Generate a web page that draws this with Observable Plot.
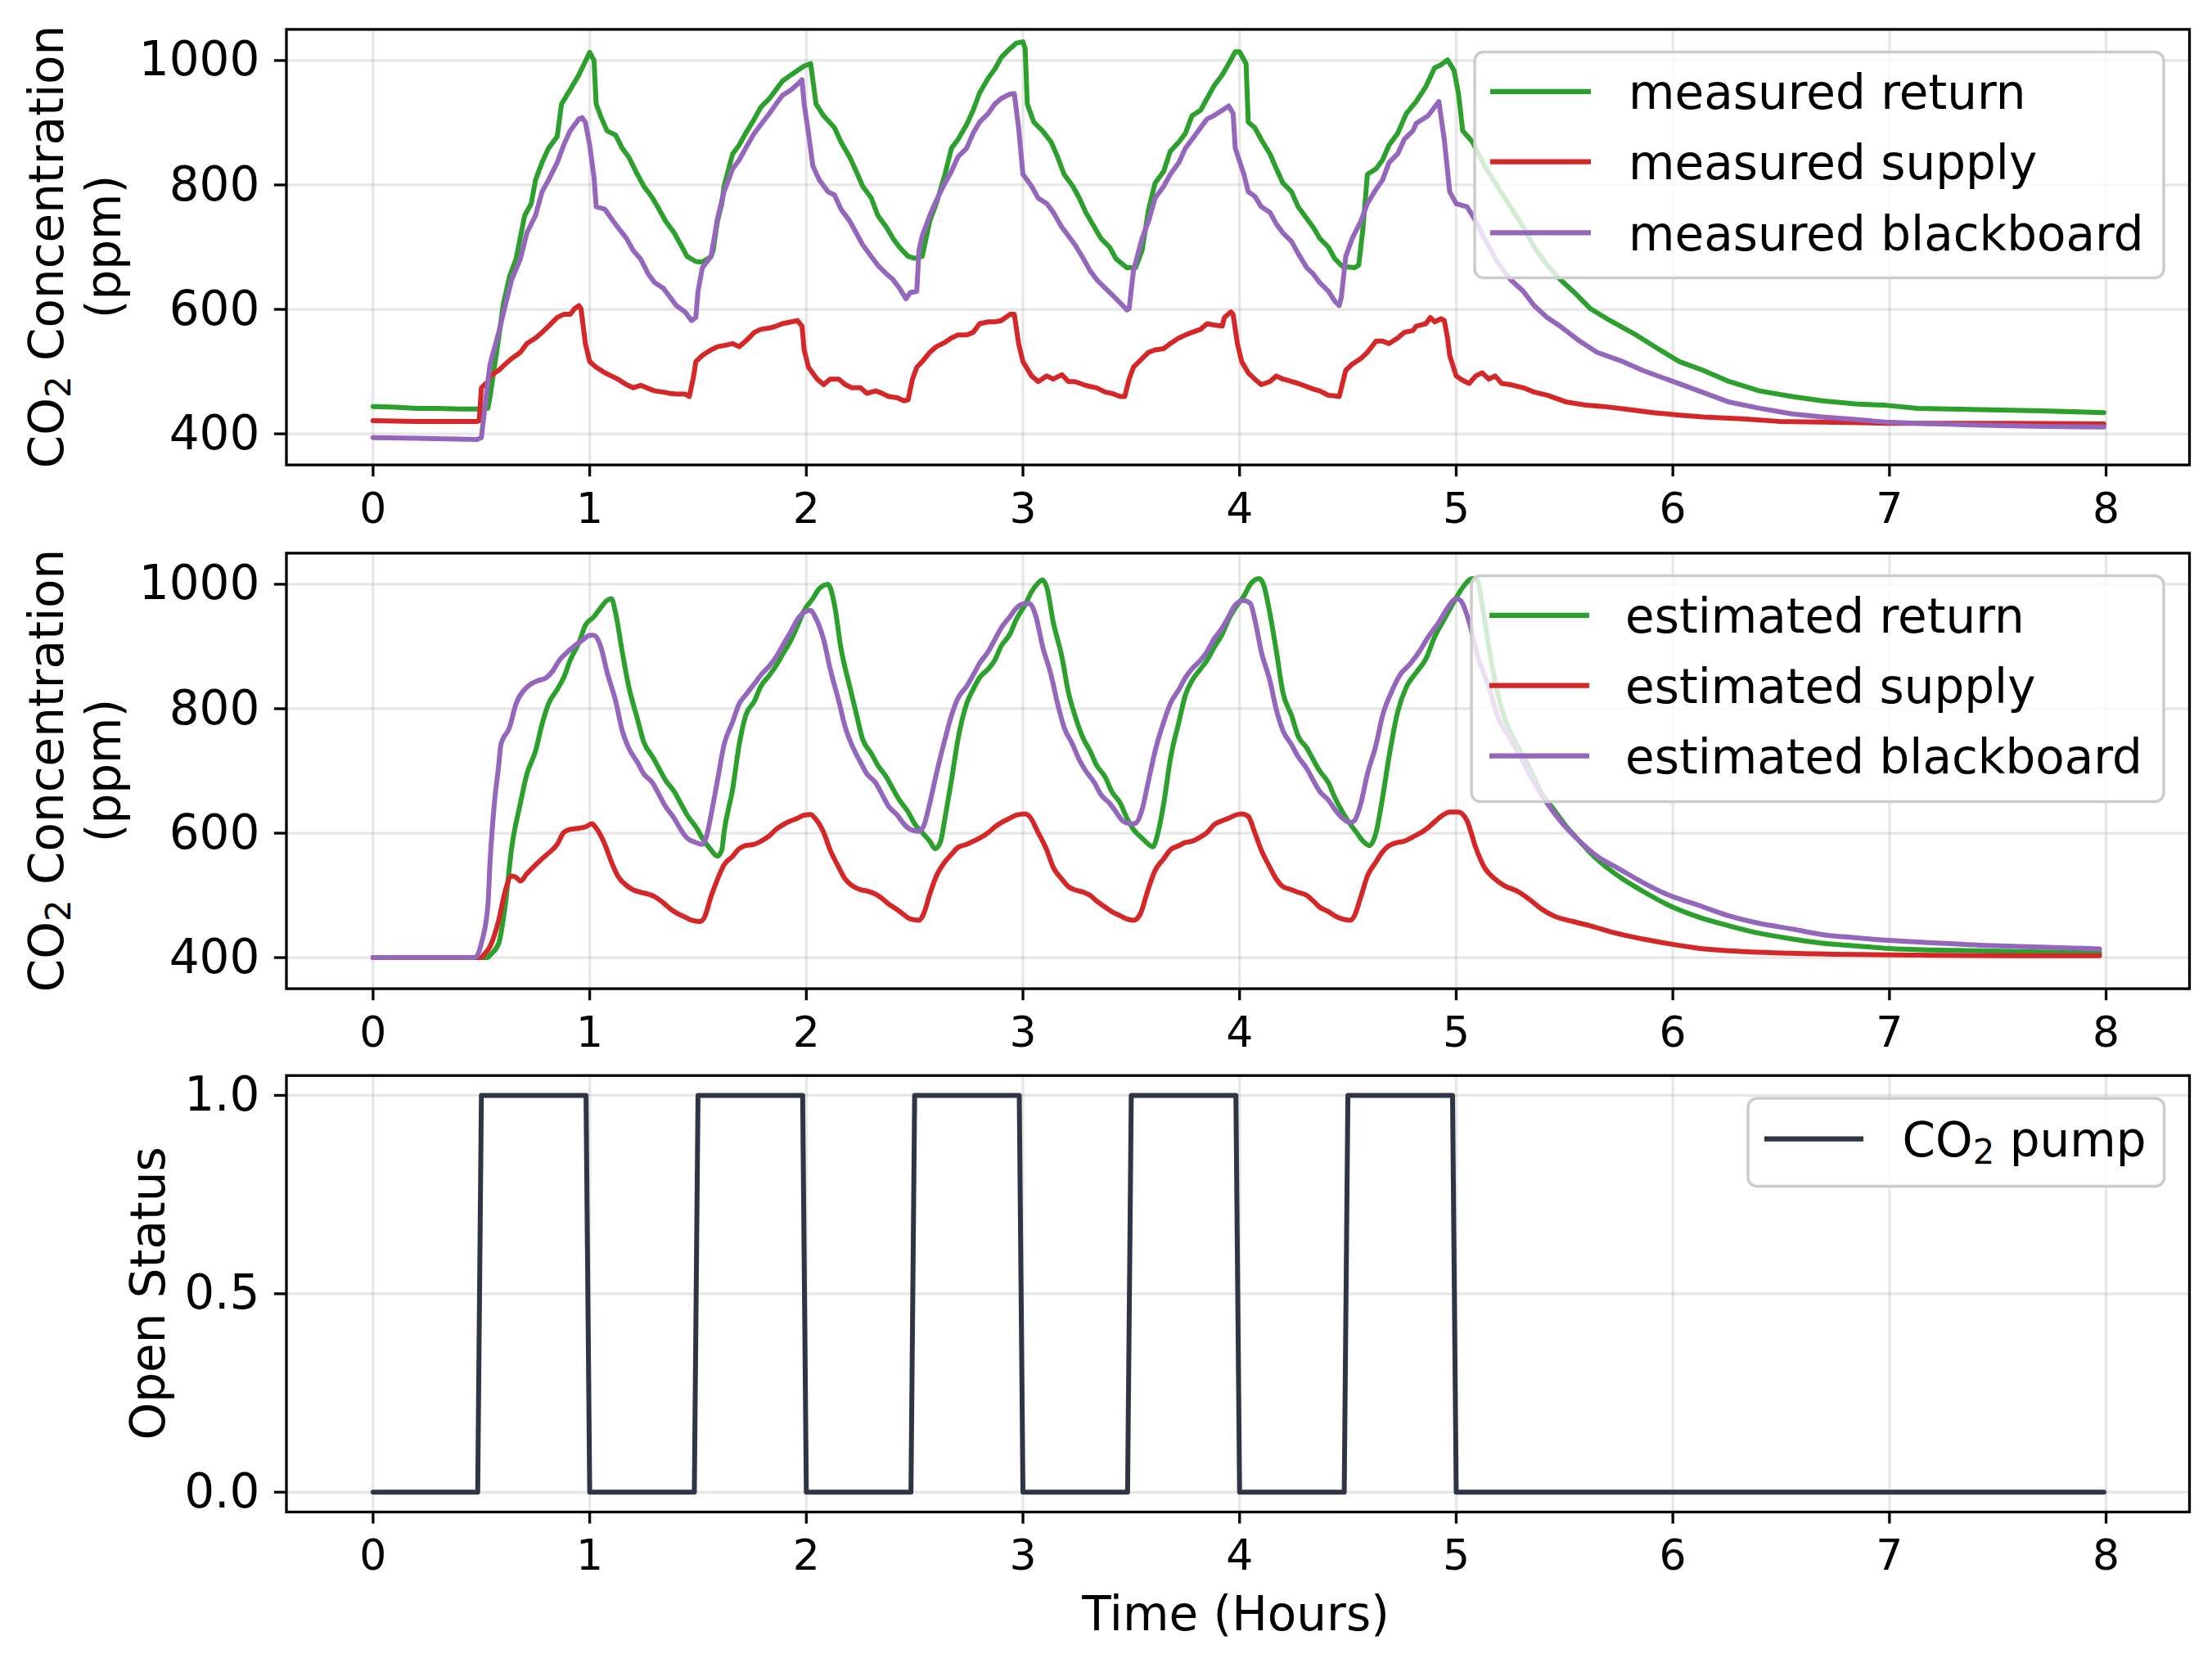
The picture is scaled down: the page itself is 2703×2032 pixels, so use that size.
<!DOCTYPE html>
<html>
<head>
<meta charset="utf-8">
<script src="https://cdn.jsdelivr.net/npm/d3@7"></script>
<script src="https://cdn.jsdelivr.net/npm/@observablehq/plot@0.6"></script>
<style>
html,body{margin:0;padding:0;background:#fff;}
#fig{position:relative;width:2703px;height:2032px;overflow:hidden;background:#fff;font-family:"DejaVu Sans";}
</style>
</head>
<body>
<div id="fig"></div>
<script>
// ---------------- data ----------------
const X_TICKS = [0, 1, 2, 3, 4, 5, 6, 7, 8];
const CONC_TICKS = [400, 600, 800, 1000];
const STATUS_TICKS = [0, 0.5, 1];

const measuredReturn = [[0,444],[0.1,443],[0.2,441],[0.3,441],[0.4,440],[0.5,440],[0.53,441],[0.54,460],[0.58,554],[0.6,606],[0.63,653],[0.66,681],[0.70,751],[0.73,770],[0.75,808],[0.78,836],[0.81,859],[0.85,878],[0.87,930],[0.91,953],[0.95,977],[0.975,995],[1.0,1013],[1.02,1000],[1.03,930],[1.05,911],[1.08,887],[1.12,880],[1.15,859],[1.18,845],[1.22,817],[1.25,798],[1.29,779],[1.32,761],[1.35,742],[1.39,723],[1.42,704],[1.45,685],[1.49,677],[1.52,676],[1.56,685],[1.57,695],[1.59,742],[1.61,770],[1.62,798],[1.66,850],[1.69,864],[1.72,883],[1.76,906],[1.79,925],[1.83,939],[1.86,953],[1.89,967],[1.93,977],[1.96,984],[1.99,991],[2.02,995],[2.045,930],[2.08,911],[2.13,892],[2.16,869],[2.2,845],[2.23,822],[2.26,798],[2.3,779],[2.33,751],[2.37,732],[2.4,714],[2.43,700],[2.47,685],[2.5,682],[2.535,685],[2.57,742],[2.6,770],[2.64,817],[2.67,859],[2.7,873],[2.74,897],[2.77,920],[2.8,948],[2.84,972],[2.87,986],[2.9,1005],[2.94,1019],[2.97,1028],[3.0,1030],[3.01,1019],[3.02,930],[3.05,901],[3.09,887],[3.13,869],[3.16,845],[3.19,817],[3.23,798],[3.26,779],[3.29,756],[3.33,732],[3.36,714],[3.4,700],[3.43,681],[3.48,667],[3.52,667],[3.55,695],[3.58,761],[3.61,803],[3.65,822],[3.68,854],[3.72,869],[3.75,883],[3.78,911],[3.82,920],[3.85,939],[3.88,958],[3.92,977],[3.95,995],[3.98,1014],[4.0,1014],[4.03,995],[4.04,901],[4.07,892],[4.1,873],[4.14,850],[4.17,826],[4.2,803],[4.24,789],[4.27,765],[4.31,746],[4.34,732],[4.37,714],[4.41,700],[4.44,681],[4.475,669],[4.53,667],[4.55,671],[4.57,732],[4.59,817],[4.63,826],[4.66,840],[4.69,864],[4.73,883],[4.77,915],[4.815,934],[4.86,958],[4.9,988],[4.93,993],[4.96,1001],[4.99,984],[5.01,948],[5.03,887],[5.075,869],[5.13,831],[5.19,798],[5.25,765],[5.31,732],[5.36,700],[5.42,671],[5.48,648],[5.54,629],[5.62,601],[5.71,582],[5.83,559],[5.94,535],[6.03,516],[6.14,502],[6.26,484],[6.4,469],[6.55,460],[6.69,453],[6.84,448],[6.98,446],[7.13,441],[7.42,439],[7.7,437],[7.99,434]];

const measuredSupply = [[0,421],[0.2,420],[0.48,420],[0.49,421],[0.5,474],[0.53,484],[0.54,493],[0.58,502],[0.61,512],[0.64,521],[0.68,531],[0.71,545],[0.75,554],[0.78,563],[0.81,573],[0.85,587],[0.88,592],[0.91,592],[0.93,601],[0.95,606],[0.96,601],[0.98,545],[1.0,516],[1.03,507],[1.07,498],[1.1,493],[1.13,488],[1.17,479],[1.2,474],[1.235,478],[1.27,473],[1.3,469],[1.34,467],[1.37,465],[1.4,464],[1.44,464],[1.46,460],[1.48,493],[1.49,516],[1.52,526],[1.56,535],[1.59,540],[1.62,542],[1.66,545],[1.69,540],[1.72,549],[1.76,563],[1.79,568],[1.83,570],[1.86,573],[1.89,577],[1.93,580],[1.96,582],[1.98,573],[1.99,535],[2.01,507],[2.05,488],[2.08,479],[2.11,488],[2.15,488],[2.18,479],[2.21,474],[2.25,474],[2.28,465],[2.32,469],[2.35,465],[2.38,460],[2.42,458],[2.45,453],[2.47,455],[2.49,488],[2.51,507],[2.535,516],[2.57,531],[2.6,540],[2.64,547],[2.67,554],[2.7,559],[2.74,559],[2.77,563],[2.8,577],[2.84,580],[2.87,580],[2.9,582],[2.94,592],[2.96,592],[2.98,545],[3.0,516],[3.04,493],[3.07,484],[3.11,493],[3.14,488],[3.18,495],[3.21,484],[3.24,484],[3.28,479],[3.31,476],[3.34,474],[3.38,467],[3.41,465],[3.45,460],[3.47,460],[3.49,488],[3.51,507],[3.55,521],[3.58,531],[3.61,535],[3.65,537],[3.68,545],[3.72,554],[3.75,559],[3.78,563],[3.82,568],[3.85,577],[3.88,575],[3.92,573],[3.93,587],[3.96,596],[3.97,592],[3.99,545],[4.01,516],[4.04,498],[4.07,488],[4.1,479],[4.14,484],[4.17,493],[4.2,488],[4.24,484],[4.27,481],[4.31,476],[4.34,472],[4.37,469],[4.41,462],[4.44,461],[4.46,460],[4.49,502],[4.52,512],[4.56,521],[4.59,531],[4.63,549],[4.66,549],[4.69,545],[4.73,554],[4.76,563],[4.8,566],[4.815,573],[4.86,577],[4.88,587],[4.9,580],[4.93,585],[4.945,582],[4.96,554],[4.97,526],[5.0,493],[5.03,486],[5.06,481],[5.09,493],[5.12,498],[5.15,488],[5.18,493],[5.21,481],[5.25,479],[5.31,474],[5.36,467],[5.42,462],[5.51,451],[5.6,446],[5.68,444],[5.8,439],[5.91,434],[6.03,430],[6.14,427],[6.32,424],[6.49,420],[6.69,419],[6.98,417],[7.27,417],[7.56,417],[7.99,416]];

const measuredBlackboard = [[0,394],[0.2,393],[0.48,391],[0.5,394],[0.53,484],[0.54,512],[0.58,563],[0.61,606],[0.64,648],[0.68,681],[0.71,723],[0.75,751],[0.78,789],[0.81,808],[0.85,836],[0.88,864],[0.91,887],[0.95,906],[0.965,908],[0.98,901],[1.0,864],[1.02,812],[1.03,765],[1.07,761],[1.1,746],[1.13,732],[1.17,714],[1.2,695],[1.235,681],[1.27,657],[1.3,643],[1.34,634],[1.37,620],[1.4,606],[1.44,596],[1.47,582],[1.49,587],[1.5,629],[1.52,667],[1.56,685],[1.59,746],[1.62,789],[1.66,826],[1.69,840],[1.72,859],[1.76,883],[1.79,897],[1.83,915],[1.86,930],[1.89,944],[1.93,953],[1.96,962],[1.98,969],[1.99,930],[2.01,883],[2.03,831],[2.06,808],[2.1,789],[2.13,784],[2.16,761],[2.2,742],[2.23,723],[2.26,704],[2.3,685],[2.33,671],[2.37,657],[2.4,648],[2.43,634],[2.46,617],[2.48,627],[2.51,629],[2.52,695],[2.535,718],[2.57,751],[2.6,775],[2.64,803],[2.67,822],[2.7,845],[2.74,859],[2.77,883],[2.8,901],[2.84,915],[2.87,930],[2.9,939],[2.94,946],[2.96,947],[2.98,892],[3.0,817],[3.04,798],[3.07,779],[3.11,770],[3.14,756],[3.18,732],[3.21,718],[3.24,704],[3.28,681],[3.31,662],[3.34,648],[3.38,634],[3.41,624],[3.45,610],[3.48,599],[3.49,601],[3.51,662],[3.55,714],[3.58,742],[3.61,779],[3.65,798],[3.68,817],[3.72,836],[3.75,859],[3.78,873],[3.82,892],[3.85,906],[3.88,911],[3.92,920],[3.95,927],[3.97,915],[3.98,859],[4.02,817],[4.04,789],[4.07,782],[4.1,765],[4.14,756],[4.17,737],[4.2,723],[4.24,709],[4.27,690],[4.31,667],[4.34,657],[4.37,643],[4.41,629],[4.44,613],[4.46,606],[4.47,620],[4.49,685],[4.52,714],[4.56,742],[4.59,770],[4.63,793],[4.66,808],[4.69,836],[4.73,850],[4.76,873],[4.8,887],[4.815,899],[4.87,911],[4.9,925],[4.92,934],[4.945,873],[4.97,789],[5.0,770],[5.05,765],[5.09,742],[5.13,714],[5.19,676],[5.25,648],[5.31,629],[5.36,606],[5.42,587],[5.48,573],[5.57,549],[5.65,531],[5.77,516],[5.86,502],[5.97,488],[6.12,469],[6.26,451],[6.4,441],[6.55,432],[6.69,427],[6.84,423],[6.98,419],[7.13,417],[7.42,414],[7.7,412],[7.99,411]];

const estimatedReturn = [[0,400],[0.53,400],[0.54,404],[0.58,423],[0.61,484],[0.64,577],[0.68,648],[0.71,695],[0.75,732],[0.78,775],[0.81,808],[0.85,831],[0.88,850],[0.91,878],[0.95,906],[0.98,934],[1.02,948],[1.05,962],[1.08,974],[1.1,977],[1.12,953],[1.15,892],[1.18,836],[1.22,784],[1.25,746],[1.29,723],[1.32,704],[1.35,685],[1.39,667],[1.42,648],[1.45,629],[1.49,610],[1.52,592],[1.56,573],[1.59,563],[1.61,573],[1.62,601],[1.66,671],[1.69,742],[1.72,789],[1.76,812],[1.79,836],[1.83,854],[1.86,869],[1.89,887],[1.93,911],[1.96,934],[1.99,958],[2.03,977],[2.06,993],[2.1,1000],[2.11,995],[2.13,967],[2.16,897],[2.2,836],[2.23,793],[2.26,751],[2.3,728],[2.33,709],[2.37,690],[2.4,671],[2.43,653],[2.47,634],[2.5,615],[2.535,601],[2.57,587],[2.595,575],[2.62,587],[2.64,624],[2.67,685],[2.7,751],[2.74,808],[2.77,831],[2.8,850],[2.84,864],[2.87,878],[2.9,901],[2.94,920],[2.97,944],[3.01,967],[3.04,988],[3.07,1002],[3.09,1007],[3.11,995],[3.14,939],[3.18,883],[3.21,826],[3.24,789],[3.28,751],[3.31,732],[3.34,709],[3.38,690],[3.41,667],[3.45,648],[3.48,624],[3.51,606],[3.55,592],[3.58,582],[3.6,578],[3.62,596],[3.65,648],[3.68,718],[3.72,779],[3.75,822],[3.78,845],[3.82,864],[3.85,878],[3.88,897],[3.92,920],[3.95,944],[3.98,962],[4.02,981],[4.05,1000],[4.09,1009],[4.11,1000],[4.14,953],[4.17,892],[4.2,826],[4.24,789],[4.27,756],[4.31,737],[4.34,718],[4.37,700],[4.41,681],[4.44,657],[4.475,634],[4.51,615],[4.54,601],[4.57,587],[4.6,580],[4.63,601],[4.66,657],[4.69,723],[4.73,795],[4.77,835],[4.815,858],[4.86,880],[4.9,915],[4.945,944],[4.99,972],[5.03,995],[5.075,1009],[5.1,1005],[5.12,967],[5.15,901],[5.19,826],[5.23,779],[5.28,742],[5.34,704],[5.39,667],[5.45,638],[5.51,610],[5.57,587],[5.62,568],[5.68,549],[5.77,526],[5.86,507],[5.97,486],[6.12,465],[6.26,451],[6.4,439],[6.55,430],[6.69,423],[6.84,419],[6.98,415],[7.13,413],[7.42,411],[7.7,409],[7.97,408]];

const estimatedSupply = [[0,400],[0.5,400],[0.51,404],[0.54,418],[0.58,460],[0.61,507],[0.64,531],[0.66,529],[0.68,523],[0.71,535],[0.75,549],[0.78,559],[0.81,568],[0.85,582],[0.88,601],[0.91,606],[0.95,608],[0.98,610],[1.01,615],[1.03,608],[1.07,582],[1.1,554],[1.13,531],[1.17,516],[1.2,509],[1.235,505],[1.27,502],[1.3,498],[1.34,488],[1.37,479],[1.4,472],[1.44,465],[1.47,460],[1.51,458],[1.53,465],[1.56,498],[1.59,526],[1.62,549],[1.66,563],[1.69,575],[1.72,580],[1.76,582],[1.79,587],[1.83,596],[1.86,606],[1.89,613],[1.93,620],[1.96,624],[1.99,629],[2.02,630],[2.04,624],[2.08,601],[2.11,573],[2.15,545],[2.18,526],[2.21,516],[2.25,509],[2.28,507],[2.32,502],[2.35,495],[2.38,486],[2.42,477],[2.45,469],[2.48,462],[2.52,460],[2.54,469],[2.57,502],[2.6,531],[2.64,554],[2.67,566],[2.7,577],[2.74,582],[2.77,587],[2.8,592],[2.84,601],[2.87,610],[2.9,617],[2.94,624],[2.97,629],[3.01,631],[3.03,627],[3.07,601],[3.11,573],[3.14,545],[3.18,526],[3.21,514],[3.24,509],[3.28,505],[3.31,500],[3.34,491],[3.38,481],[3.41,474],[3.45,467],[3.48,462],[3.51,460],[3.54,469],[3.58,512],[3.61,540],[3.65,559],[3.68,573],[3.72,580],[3.75,585],[3.78,587],[3.82,594],[3.85,601],[3.88,613],[3.92,620],[3.95,624],[3.98,629],[4.01,631],[4.04,627],[4.07,601],[4.1,573],[4.14,545],[4.17,526],[4.2,514],[4.24,509],[4.27,505],[4.31,500],[4.34,491],[4.37,481],[4.41,474],[4.44,467],[4.475,462],[4.51,460],[4.53,467],[4.56,498],[4.59,531],[4.63,554],[4.66,570],[4.69,580],[4.73,585],[4.76,587],[4.8,594],[4.86,606],[4.89,615],[4.93,627],[4.97,634],[5.01,634],[5.05,620],[5.09,577],[5.13,545],[5.18,526],[5.22,516],[5.28,507],[5.34,493],[5.39,479],[5.45,467],[5.54,458],[5.62,451],[5.74,439],[5.86,430],[5.97,423],[6.12,415],[6.26,411],[6.55,407],[6.84,405],[7.13,404],[7.56,403],[7.97,403]];

const estimatedBlackboard = [[0,400],[0.47,400],[0.5,423],[0.53,484],[0.54,554],[0.56,648],[0.58,709],[0.59,742],[0.63,770],[0.66,808],[0.7,831],[0.73,840],[0.76,845],[0.8,850],[0.83,861],[0.86,878],[0.9,892],[0.93,901],[0.97,911],[1.0,918],[1.02,918],[1.05,901],[1.08,859],[1.12,812],[1.15,765],[1.18,737],[1.22,714],[1.25,695],[1.29,681],[1.32,662],[1.35,643],[1.39,624],[1.42,606],[1.45,592],[1.49,585],[1.52,582],[1.54,596],[1.56,629],[1.59,685],[1.62,742],[1.66,779],[1.69,808],[1.72,822],[1.76,840],[1.79,854],[1.83,869],[1.86,883],[1.89,901],[1.93,925],[1.96,944],[1.99,955],[2.02,958],[2.04,948],[2.08,911],[2.11,864],[2.15,812],[2.18,770],[2.21,742],[2.25,714],[2.28,695],[2.32,681],[2.35,662],[2.38,643],[2.42,629],[2.45,615],[2.48,606],[2.52,603],[2.54,610],[2.57,648],[2.6,695],[2.64,751],[2.67,789],[2.7,817],[2.74,836],[2.77,854],[2.8,873],[2.84,892],[2.87,911],[2.9,930],[2.94,948],[2.97,962],[3.01,969],[3.03,969],[3.06,948],[3.09,901],[3.13,854],[3.16,808],[3.19,770],[3.23,742],[3.26,718],[3.29,700],[3.33,681],[3.36,662],[3.4,648],[3.43,634],[3.46,620],[3.5,615],[3.52,616],[3.55,638],[3.58,685],[3.61,732],[3.65,779],[3.68,808],[3.72,831],[3.75,850],[3.78,864],[3.82,878],[3.85,892],[3.88,911],[3.92,930],[3.95,948],[3.98,967],[4.02,974],[4.05,969],[4.07,944],[4.1,892],[4.14,845],[4.17,798],[4.2,765],[4.24,742],[4.27,723],[4.31,704],[4.34,685],[4.37,667],[4.41,653],[4.44,638],[4.475,624],[4.51,617],[4.53,620],[4.56,648],[4.59,695],[4.63,742],[4.66,789],[4.7,826],[4.74,854],[4.79,873],[4.83,892],[4.87,915],[4.92,939],[4.96,962],[5.0,977],[5.02,974],[5.06,939],[5.1,883],[5.15,836],[5.19,789],[5.25,751],[5.31,714],[5.36,681],[5.42,648],[5.48,620],[5.57,587],[5.65,563],[5.74,545],[5.86,521],[5.97,502],[6.12,484],[6.26,467],[6.4,455],[6.55,446],[6.69,437],[6.84,432],[6.98,428],[7.13,425],[7.42,420],[7.7,417],[7.97,414]];

const pumpTime   = [0, 0.483, 0.5, 0.983, 1.0, 1.483, 1.5, 1.983, 2.0, 2.483, 2.5, 2.983, 3.0, 3.483, 3.5, 3.983, 4.0, 4.483, 4.5, 4.983, 5.0, 7.99];
const pumpStatus = [0, 0,     1,   1,     0,   0,     1,   1,     0,   0,     1,   1,     0,   0,     1,   1,     0,   0,     1,   1,     0,   0];

const GREEN = "#2ca02c", RED = "#d62728", PURPLE = "#9467bd", PUMP = "#2e3646";

// ---------------- layout ----------------
const W = 2703, H = 2032;
const ML = 349.5, MR = 28;
const X_DOMAIN = [-0.4, 8.385];
const FONT = "DejaVu Sans";
const FS = 58;
const fig = document.getElementById("fig");

const toRows = pairs => pairs.map(([t, v]) => ({t, v}));

function panel(cfg) {
  const grid = {stroke: "#b0b0b0", strokeOpacity: 0.3, strokeWidth: 3.3};
  const marks = [
    Plot.gridX(X_TICKS, grid),
    Plot.gridY(cfg.yTicks, grid),
    ...cfg.series.map(s => Plot.line(s.rows, {x: "t", y: "v", stroke: s.color, strokeWidth: 6, curve: s.curve || "linear", strokeLinejoin: "round"})),
    Plot.frame({stroke: "#000", strokeWidth: 3.3}),
    Plot.axisX(X_TICKS, {label: null, tickSize: 14.6, tickPadding: 19, fontSize: 52, strokeWidth: 3.3, tickFormat: d => String(d)}),
    Plot.axisY(cfg.yTicks, {label: null, tickSize: 14.6, tickPadding: 18, fontSize: FS, strokeWidth: 3.3, tickFormat: cfg.yFormat})
  ];
  const svg = Plot.plot({
    width: W, height: cfg.height,
    marginLeft: ML, marginRight: MR, marginTop: cfg.mt, marginBottom: cfg.mb,
    x: {domain: X_DOMAIN, axis: null},
    y: {domain: cfg.yDomain, axis: null},
    style: {fontFamily: FONT, color: "#000", background: "transparent", overflow: "visible"},
    marks
  });
  svg.style.position = "absolute";
  svg.style.top = cfg.top + "px";
  svg.style.left = "0px";
  fig.appendChild(svg);
}

panel({
  top: 0, height: 650, mt: 35.4, mb: 82.4,
  yDomain: [350, 1050], yTicks: CONC_TICKS, yFormat: d => String(d),
  series: [
    {rows: toRows(measuredReturn), color: GREEN},
    {rows: toRows(measuredSupply), color: RED},
    {rows: toRows(measuredBlackboard), color: PURPLE}
  ]
});

panel({
  top: 650, height: 640, mt: 25.4, mb: 82.4,
  yDomain: [350, 1050], yTicks: CONC_TICKS, yFormat: d => String(d),
  series: [
    {rows: toRows(estimatedReturn), color: GREEN, curve: "monotone-x"},
    {rows: toRows(estimatedSupply), color: RED, curve: "monotone-x"},
    {rows: toRows(estimatedBlackboard), color: PURPLE, curve: "monotone-x"}
  ]
});

panel({
  top: 1290, height: 742, mt: 23.7, mb: 185,
  yDomain: [-0.05, 1.05], yTicks: STATUS_TICKS, yFormat: d3.format(".1f"),
  series: [
    {rows: pumpTime.map((t, i) => ({t, v: pumpStatus[i]})), color: PUMP}
  ]
});

// ---------------- overlay: axis titles and legends (page coordinates) ----------------
const overlay = d3.create("svg")
  .attr("width", W).attr("height", H)
  .style("position", "absolute").style("top", "0px").style("left", "0px")
  .style("font-family", FONT);

// text with a matplotlib-style subscript "2" after "CO"
function co2Text(sel, rest) {
  sel.append("tspan").text("CO");
  sel.append("tspan").attr("font-size", FS * 0.72).attr("dy", 8.5).text("2");
  sel.append("tspan").attr("dy", -8.5).text(rest);
}

function yTitle(baselineX, centerY, build) {
  const t = overlay.append("text")
    .attr("transform", `translate(${baselineX},${centerY}) rotate(-90)`)
    .attr("text-anchor", "middle").attr("font-size", FS).attr("fill", "#000");
  build(t);
}

// top panel
yTitle(77, 301.5, t => co2Text(t, " Concentration"));
yTitle(147, 301.5, t => t.text("(ppm)"));
// middle panel
yTitle(77, 941.5, t => co2Text(t, " Concentration"));
yTitle(147, 941.5, t => t.text("(ppm)"));
// bottom panel
yTitle(201, 1580.4, t => t.text("Open Status"));
// x title
overlay.append("text")
  .attr("x", 1510).attr("y", 1991.7)
  .attr("text-anchor", "middle").attr("font-size", FS).attr("fill", "#000")
  .text("Time (Hours)");

function legend(box, items) {
  const g = overlay.append("g");
  g.append("rect")
    .attr("x", box.x0).attr("y", box.y0)
    .attr("width", box.x1 - box.x0).attr("height", box.y1 - box.y0)
    .attr("rx", 11).attr("ry", 11)
    .attr("fill", "#fff").attr("fill-opacity", 0.8)
    .attr("stroke", "#cccccc").attr("stroke-width", 3.5);
  items.forEach((it, i) => {
    const cy = box.rows[i];
    g.append("line")
      .attr("x1", box.lx0).attr("x2", box.lx1).attr("y1", cy).attr("y2", cy)
      .attr("stroke", it.color).attr("stroke-width", 6.25);
    const t = g.append("text")
      .attr("x", box.tx).attr("y", cy + 21.5)
      .attr("font-size", FS).attr("fill", "#000");
    if (it.co2) co2Text(t, it.label); else t.text(it.label);
  });
}

legend({x0: 1802, x1: 2644, y0: 63.6, y1: 339.6, lx0: 1821, lx1: 1944, tx: 1990, rows: [111.8, 197.5, 284.3]}, [
  {label: "measured return", color: GREEN},
  {label: "measured supply", color: RED},
  {label: "measured blackboard", color: PURPLE}
]);
legend({x0: 1798, x1: 2644, y0: 703.6, y1: 979.6, lx0: 1820, lx1: 1942, tx: 1986, rows: [751.8, 837.5, 923.6]}, [
  {label: "estimated return", color: GREEN},
  {label: "estimated supply", color: RED},
  {label: "estimated blackboard", color: PURPLE}
]);
legend({x0: 2136, x1: 2644.6, y0: 1342, y1: 1449.5, lx0: 2156, lx1: 2277, tx: 2324.5, rows: [1391.7]}, [
  {label: " pump", color: PUMP, co2: true}
]);

fig.appendChild(overlay.node());
</script>
</body>
</html>
